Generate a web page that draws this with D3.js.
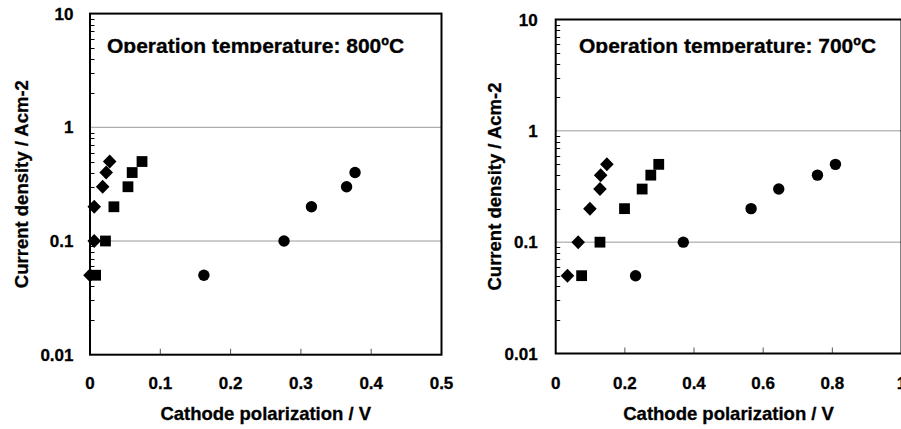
<!DOCTYPE html>
<html>
<head>
<meta charset="utf-8">
<script src="https://cdn.jsdelivr.net/npm/d3@7/dist/d3.min.js"></script>
<style>
  html, body { margin: 0; padding: 0; background: #fff; }
  svg { display: block; }
  text { font-family: "Liberation Sans", Arial, sans-serif; font-weight: bold; fill: #000; stroke: #000; stroke-width: 0.3px; }
</style>
</head>
<body>
<svg id="chart" width="901" height="429"></svg>
<script>
// ---------------- DATA ----------------
const currentLevels = [0.05, 0.1, 0.2, 0.3, 0.4, 0.5];

// 800 °C panel — cathode polarization (V) at each current density
const diamond800 = [0.0, 0.006, 0.006, 0.018, 0.023, 0.028];
const square800  = [0.008, 0.022, 0.034, 0.054, 0.060, 0.074];
const circle800Levels = [0.05, 0.1, 0.2, 0.3, 0.4];
const circle800  = [0.162, 0.276, 0.315, 0.365, 0.377];

// 700 °C panel
const diamond700 = [0.034, 0.065, 0.099, 0.128, 0.130, 0.148];
const square700  = [0.075, 0.128, 0.199, 0.250, 0.275, 0.298];
const circle700Levels = [0.05, 0.1, 0.2, 0.3, 0.4, 0.5];
const circle700  = [0.231, 0.369, 0.565, 0.645, 0.757, 0.809];

const yTicks = [0.01, 0.1, 1, 10];
const yTickLabels = ["0.01", "0.1", "1", "10"];
const gridValues = [0.1, 1];
const xTicks800 = [0, 0.1, 0.2, 0.3, 0.4, 0.5];
const xTickLabels800 = ["0", "0.1", "0.2", "0.3", "0.4", "0.5"];
const xTicks700 = [0, 0.2, 0.4, 0.6, 0.8, 1];
const xTickLabels700 = ["0", "0.2", "0.4", "0.6", "0.8", "1"];

const titles800 = "Operation temperature: 800ºC";
const titles700 = "Operation temperature: 700ºC";
const xTitle = "Cathode polarization / V";
const yTitle = "Current density / Acm-2";

// ---------------- DRAW ----------------
const svg = d3.select("#chart");

const panels = [
  {
    id: "p800", x0: 90, x1: 441.5, y0: 13.6, y1: 354.7, xMax: 0.5,
    xTicks: xTicks800, xLabels: xTickLabels800, note: titles800, noteX: 107,
    yTitleX: 21, yLabelOff: 16.5,
    series: [
      { shape: "diamond", xs: diamond800, ys: currentLevels },
      { shape: "square",  xs: square800,  ys: currentLevels },
      { shape: "circle",  xs: circle800,  ys: circle800Levels }
    ]
  },
  {
    id: "p700", x0: 555.7, x1: 901.5, y0: 19.5, y1: 353.5, xMax: 1,
    xTicks: xTicks700, xLabels: xTickLabels700, note: titles700, noteX: 579,
    yTitleX: 494, yLabelOff: 18,
    series: [
      { shape: "diamond", xs: diamond700, ys: currentLevels },
      { shape: "square",  xs: square700,  ys: currentLevels },
      { shape: "circle",  xs: circle700,  ys: circle700Levels }
    ]
  }
];

function markerPath(shape) {
  if (shape === "diamond") return "M0,-7L6.8,0L0,7L-6.8,0Z";
  if (shape === "square") return "M-5.4,-5.4H5.4V5.4H-5.4Z";
  return d3.symbol().type(d3.symbolCircle).size(Math.PI * 5.7 * 5.7)();
}

panels.forEach(p => {
  const x = d3.scaleLinear().domain([0, p.xMax]).range([p.x0, p.x1]);
  const y = d3.scaleLog().domain([0.01, 10]).range([p.y1, p.y0]);
  const g = svg.append("g");

  // gridlines
  g.selectAll("line.grid").data(gridValues).join("line")
    .attr("x1", p.x0).attr("x2", p.x1)
    .attr("y1", d => y(d)).attr("y2", d => y(d))
    .attr("stroke", "#9a9a9a").attr("stroke-width", 1);

  // minor log ticks (inside)
  const minors = [];
  [0.01, 0.1, 1].forEach(dec => { for (let k = 2; k <= 9; k++) minors.push(dec * k); });
  g.selectAll("line.minor").data(minors).join("line")
    .attr("x1", p.x0).attr("x2", p.x0 + 4.5)
    .attr("y1", d => Math.round(y(d)) + 0.5).attr("y2", d => Math.round(y(d)) + 0.5)
    .attr("stroke", "#000").attr("stroke-width", 1);

  // x ticks (inside)
  g.selectAll("line.xt").data(p.xTicks.slice(1, -1)).join("line")
    .attr("x1", d => x(d)).attr("x2", d => x(d))
    .attr("y1", p.y1).attr("y2", p.y1 - 6)
    .attr("stroke", "#555").attr("stroke-width", 1);

  // frame
  g.append("rect")
    .attr("x", p.x0).attr("y", p.y0)
    .attr("width", p.x1 - p.x0).attr("height", p.y1 - p.y0)
    .attr("fill", "none").attr("stroke", "#000").attr("stroke-width", 2);

  // y tick labels
  g.selectAll("text.yl").data(yTicks).join("text")
    .attr("x", p.x0 - p.yLabelOff).attr("y", d => y(d))
    .attr("dy", "0.36em").attr("text-anchor", "end")
    .style("font-size", "17px")
    .text((d, i) => yTickLabels[i]);

  // x tick labels
  g.selectAll("text.xl").data(p.xTicks).join("text")
    .attr("x", d => x(d)).attr("y", 389)
    .attr("text-anchor", "middle")
    .style("font-size", "17px")
    .text((d, i) => p.xLabels[i]);

  // axis titles
  g.append("text")
    .attr("x", (p.x0 + p.x1) / 2).attr("y", 420)
    .attr("text-anchor", "middle").style("font-size", "18.5px")
    .text(xTitle);
  g.append("text")
    .attr("transform", `translate(${p.yTitleX},${(p.y0 + p.y1) / 2}) rotate(-90)`)
    .attr("dy", "0.36em")
    .attr("text-anchor", "middle").style("font-size", "18.5px")
    .text(yTitle);

  // annotation (clipped just below baseline, like the reference)
  const clipId = "clip-" + p.id;
  svg.append("defs").append("clipPath").attr("id", clipId)
    .append("rect").attr("x", p.noteX - 5).attr("y", 25).attr("width", 320).attr("height", 28);
  g.append("text")
    .attr("x", p.noteX).attr("y", 53)
    .attr("clip-path", `url(#${clipId})`)
    .style("font-size", "21px")
    .text(p.note);

  // markers
  p.series.forEach(s => {
    g.selectAll(null).data(s.xs.map((v, i) => [v, s.ys[i]])).join("path")
      .attr("d", markerPath(s.shape))
      .attr("transform", d => `translate(${x(d[0])},${y(d[1])})`)
      .attr("fill", "#000");
  });
});
</script>
</body>
</html>
